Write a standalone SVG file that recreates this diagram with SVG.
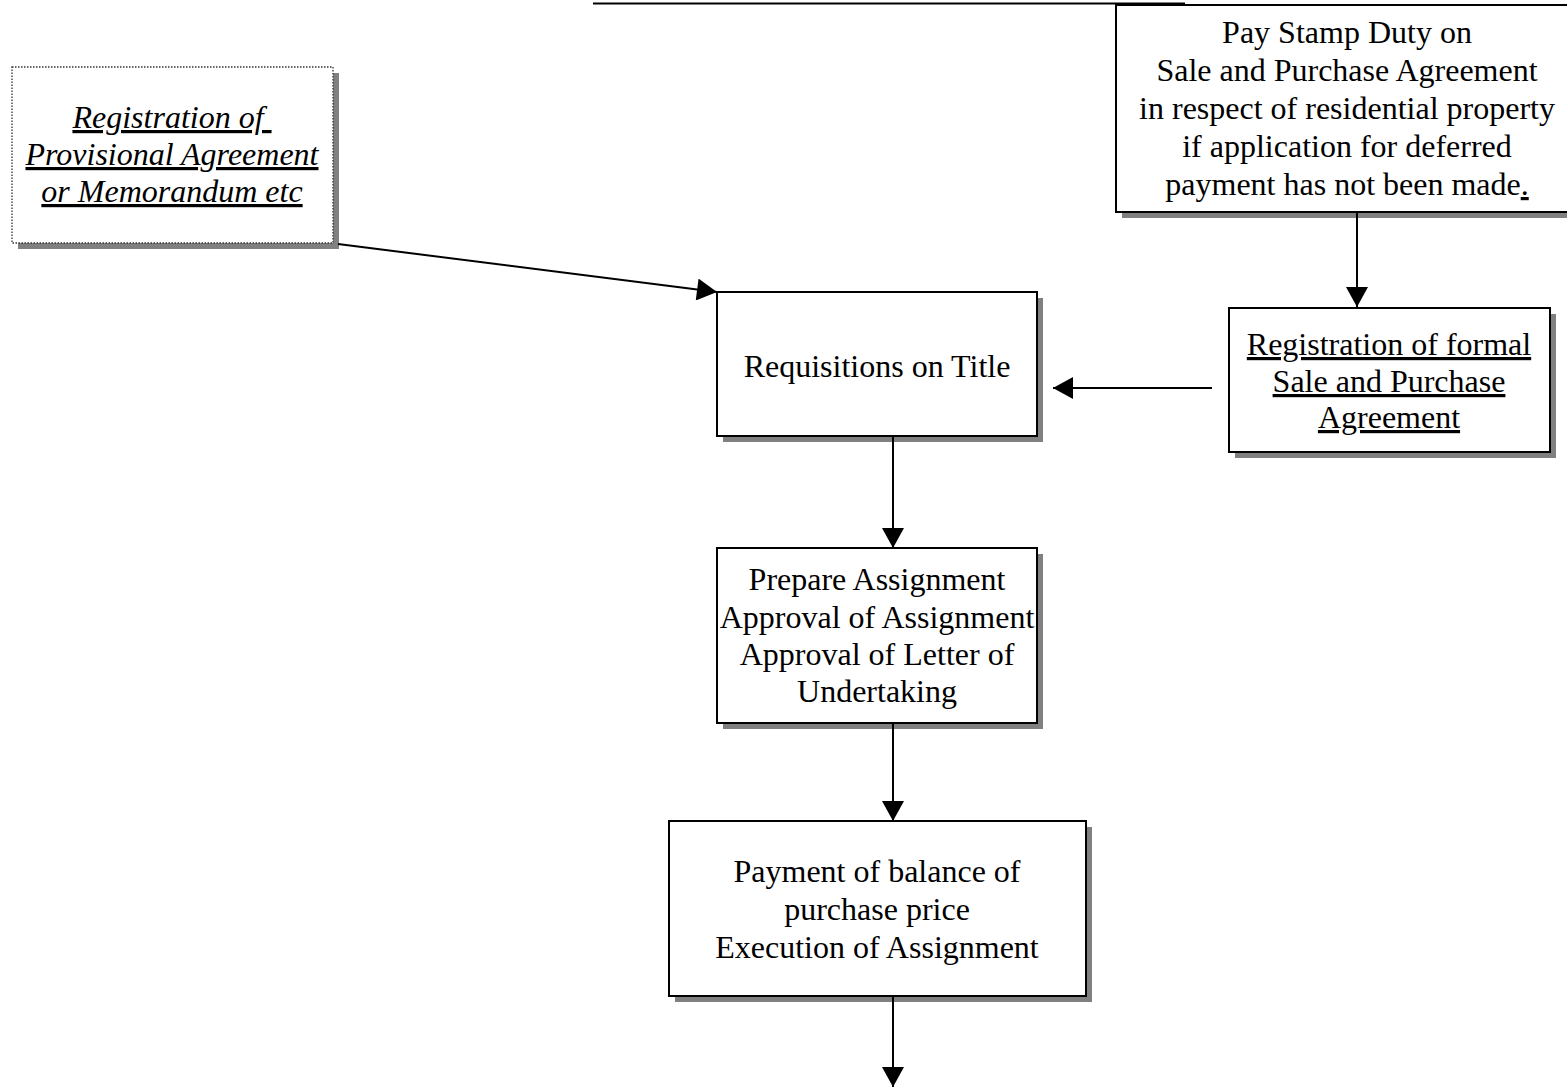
<svg xmlns="http://www.w3.org/2000/svg" width="1567" height="1088" viewBox="0 0 1567 1088">
<style>
  .box{fill:#ffffff;stroke:#000000;stroke-width:2}
  .dot{fill:#ffffff;stroke:#333333;stroke-width:1.3;stroke-dasharray:1.5 1.5}
  .sh{fill:#808080;stroke:none}
  .t{font-family:"Liberation Serif","Times New Roman",serif;font-size:32px;fill:#000000;text-anchor:middle}
  .it{font-style:italic;text-decoration:underline}
  .u{text-decoration:underline}
  .c{stroke:#000000;stroke-width:2;fill:none}
</style>
<defs>
  <marker id="ah" markerUnits="userSpaceOnUse" markerWidth="22" markerHeight="22" viewBox="0 0 20 22" refX="20" refY="11" orient="auto">
    <path d="M0,0 L20,11 L0,22 Z" fill="#000000"/>
  </marker>
</defs>
<rect width="1567" height="1088" fill="#ffffff"/>
<line x1="593" y1="3.5" x2="1185" y2="3.5" stroke="#000000" stroke-width="2.2"/>

<g id="node-stamp">
  <rect class="sh" x="1122" y="11" width="460" height="207"/>
  <rect class="box" x="1116" y="5" width="460" height="207"/>
  <text class="t" x="1347" y="43">Pay Stamp Duty on</text>
  <text class="t" x="1347" y="81">Sale and Purchase Agreement</text>
  <text class="t" x="1347" y="119">in respect of residential property</text>
  <text class="t" x="1347" y="157">if application for deferred</text>
  <text class="t" x="1347" y="195">payment has not been made<tspan class="u">.</tspan></text>
</g>

<g id="node-provisional">
  <rect class="sh" x="18" y="73" width="321" height="176"/>
  <rect class="dot" x="12" y="67" width="321" height="176"/>
  <text class="t it" x="172" y="128" xml:space="preserve">Registration of </text>
  <text class="t it" x="172" y="165">Provisional Agreement</text>
  <text class="t it" x="172" y="202">or Memorandum etc</text>
</g>

<g id="node-requisitions">
  <rect class="sh" x="723" y="298" width="320" height="144"/>
  <rect class="box" x="717" y="292" width="320" height="144"/>
  <text class="t" x="877" y="377">Requisitions on Title</text>
</g>

<g id="node-formal">
  <rect class="sh" x="1235" y="314" width="321" height="144"/>
  <rect class="box" x="1229" y="308" width="321" height="144"/>
  <text class="t u" x="1389" y="355">Registration of formal</text>
  <text class="t u" x="1389" y="392">Sale and Purchase</text>
  <text class="t u" x="1389" y="428">Agreement</text>
</g>

<g id="node-prepare">
  <rect class="sh" x="723" y="554" width="320" height="175"/>
  <rect class="box" x="717" y="548" width="320" height="175"/>
  <text class="t" x="877" y="590">Prepare Assignment</text>
  <text class="t" x="877" y="628">Approval of Assignment</text>
  <text class="t" x="877" y="665">Approval of Letter of</text>
  <text class="t" x="877" y="702">Undertaking</text>
</g>

<g id="node-payment">
  <rect class="sh" x="675" y="827" width="417" height="175"/>
  <rect class="box" x="669" y="821" width="417" height="175"/>
  <text class="t" x="877" y="882">Payment of balance of</text>
  <text class="t" x="877" y="920">purchase price</text>
  <text class="t" x="877" y="958">Execution of Assignment</text>
</g>

<g id="connectors">
  <line class="c" x1="338" y1="244" x2="717" y2="292" marker-end="url(#ah)"/>
  <line class="c" x1="1357" y1="212" x2="1357" y2="307" marker-end="url(#ah)"/>
  <line class="c" x1="1212" y1="388" x2="1053" y2="388" marker-end="url(#ah)"/>
  <line class="c" x1="893" y1="436" x2="893" y2="548" marker-end="url(#ah)"/>
  <line class="c" x1="893" y1="723" x2="893" y2="821" marker-end="url(#ah)"/>
  <line class="c" x1="893" y1="996" x2="893" y2="1087" marker-end="url(#ah)"/>
</g>
</svg>
